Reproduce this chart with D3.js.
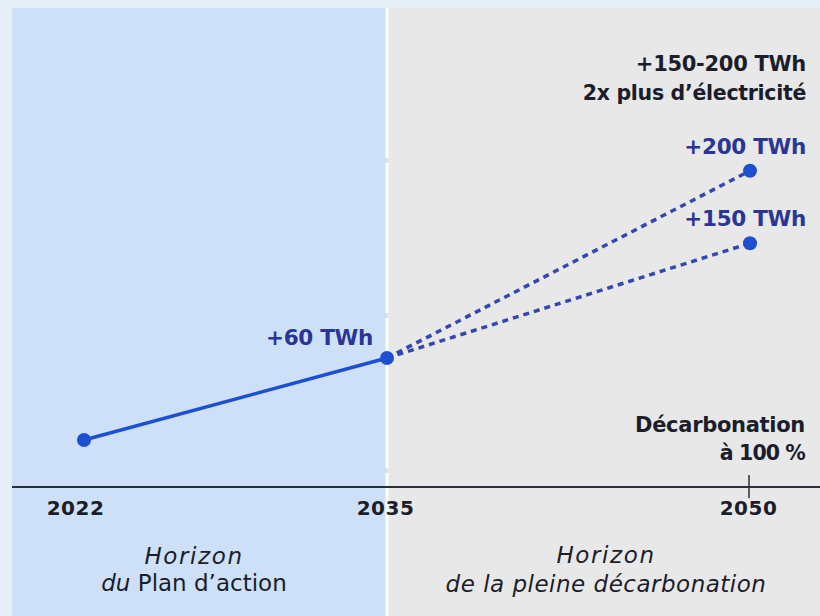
<!DOCTYPE html>
<html><head><meta charset="utf-8">
<script src="https://cdn.jsdelivr.net/npm/d3@7"></script>
<style>html,body{margin:0;padding:0;background:#e6eef8;}svg{display:block;font-family:"DejaVu Sans", sans-serif;}</style>
</head><body>
<svg id="c" width="820" height="616"></svg>
<script>
const years = [2022, 2035, 2050];
const yearLabels = ["2022", "2035", "2050"];
const actualYears = [2022, 2035];
const actualValues = [0, 60];
const projYear = 2050;
const projValues = [197, 144];
const projLabels = ["+200 TWh", "+150 TWh"];
const midLabel = "+60 TWh";
const headline = ["+150-200 TWh", "2x plus d’électricité"];
const milestone = ["Décarbonation", "à 100 %"];

const svg = d3.select("#c");
const W = 820, H = 616;
const x = d3.scaleLinear().domain(years).range([84, 387, 750]);
const y = d3.scaleLinear().domain([0, 60]).range([440, 358]);

const blue = "#1d4fd1", dashBlue = "#3446b4", labelBlue = "#2b3597", dark = "#1b1d2b";

// panels
svg.append("rect").attr("x", 12).attr("y", 8).attr("width", x(2035) - 12).attr("height", H - 8).attr("fill", "#cde0f7");
svg.append("rect").attr("x", x(2035)).attr("y", 8).attr("width", W - x(2035)).attr("height", H - 8).attr("fill", "#e8e8e8");
svg.append("line").attr("x1", x(2035)).attr("x2", x(2035)).attr("y1", 8).attr("y2", H)
  .attr("stroke", "#fff").attr("stroke-width", 3).attr("stroke-dasharray", "150,5");

// axis baseline
const axisY = 487;
svg.append("line").attr("x1", 12).attr("x2", W).attr("y1", axisY).attr("y2", axisY).attr("stroke", "#2d2f38").attr("stroke-width", 2);
svg.append("line").attr("x1", x(2050) - 1).attr("x2", x(2050) - 1).attr("y1", axisY - 12).attr("y2", axisY + 11).attr("stroke", "#2d2f38").attr("stroke-width", 1.5);

const ax = svg.append("g").attr("transform", `translate(0,${axisY})`)
  .call(d3.axisBottom(x).tickValues(years).tickSize(0).tickPadding(14).tickFormat((d, i) => yearLabels[i]));
ax.select(".domain").remove();
ax.selectAll("text").attr("font-size", 20).attr("font-weight", 700).attr("fill", dark)
  .attr("font-family", "'DejaVu Sans', sans-serif").attr("letter-spacing", 0.5);
ax.selectAll(".tick").filter(d => d === 2022).select("text").attr("dx", -9);
ax.selectAll(".tick").filter(d => d !== 2022).select("text").attr("dx", -2);

// projections (dashed)
projValues.forEach(v => {
  svg.append("line").attr("x1", x(2035)).attr("y1", y(60)).attr("x2", x(projYear)).attr("y2", y(v))
    .attr("stroke", dashBlue).attr("stroke-width", 3.5).attr("stroke-dasharray", "6,5");
});

// actual line
const line = d3.line().x((d, i) => x(actualYears[i])).y(d => y(d));
svg.append("path").datum(actualValues).attr("d", line).attr("fill", "none").attr("stroke", blue).attr("stroke-width", 3.5);

// dots
actualValues.forEach((v, i) => svg.append("circle").attr("cx", x(actualYears[i])).attr("cy", y(v)).attr("r", 7).attr("fill", blue));
projValues.forEach(v => svg.append("circle").attr("cx", x(projYear)).attr("cy", y(v)).attr("r", 7).attr("fill", blue));

// labels
function txt(t, xx, yy, opts) {
  const e = svg.append("text").attr("x", xx).attr("y", yy).text(t)
    .attr("text-anchor", opts.anchor || "end").attr("font-size", opts.size || 19)
    .attr("font-weight", opts.weight || 700).attr("fill", opts.fill || dark);
  if (opts.italic) e.attr("font-style", "italic");
  if (opts.ls != null) e.attr("letter-spacing", opts.ls);
  return e;
}
txt(headline[0], 806, 71, {size: 21, ls: -0.3});
txt(headline[1], 806, 100, {size: 20.5, ls: -0.3});
projLabels.forEach((l, i) => txt(l, 806, y(projValues[i]) - 17, {fill: labelBlue, size: 21.5, ls: -0.3}));
txt(midLabel, 373, 345, {fill: labelBlue, size: 21.5, ls: -0.3});
txt(milestone[0], 805, 432, {size: 21, ls: -0.3});
txt(milestone[1], 805, 460, {size: 20.5, ls: -0.9});

// horizon captions
const capL = 194, capR = 606;
txt("Horizon", capL, 564, {anchor: "middle", italic: true, size: 23, weight: 400, ls: 1.6});
const t2 = svg.append("text").attr("x", capL).attr("y", 591).attr("text-anchor", "middle").attr("font-size", 23).attr("fill", dark).attr("letter-spacing", 0);
t2.append("tspan").attr("font-style", "italic").text("du ");
t2.append("tspan").text("Plan d’action");
txt("Horizon", capR, 563, {anchor: "middle", italic: true, size: 23, weight: 400, ls: 1.6});
txt("de la pleine décarbonation", capR, 592, {anchor: "middle", italic: true, size: 23, weight: 400, ls: 0.5});
</script>
</body></html>
